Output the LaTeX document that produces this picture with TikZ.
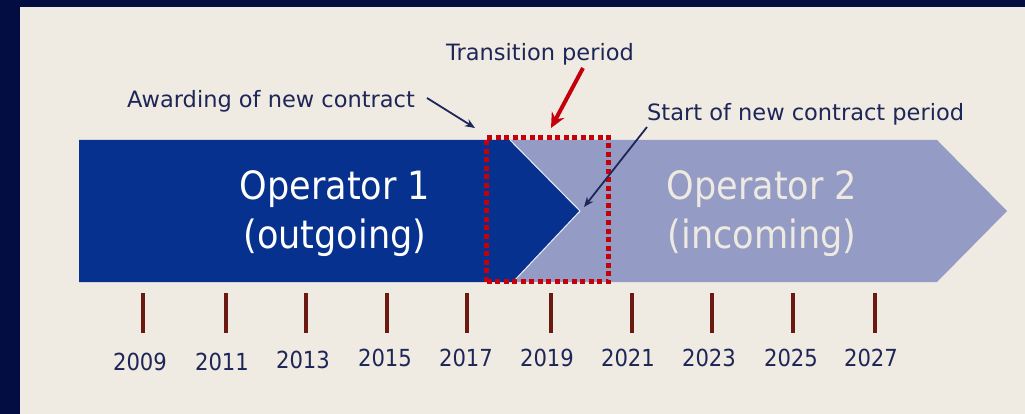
\documentclass[tikz,border=0pt]{standalone}
\usepackage{fontspec}
\setmainfont{DejaVu Sans Condensed}
\newfontfamily\lblfont{DejaVu Sans}
\usetikzlibrary{arrows.meta}
\definecolor{navyborder}{HTML}{030D42}
\definecolor{bg}{HTML}{EFEBE3}
\definecolor{darkbar}{HTML}{06318E}
\definecolor{lightbar}{HTML}{949BC4}
\definecolor{txt}{HTML}{1E2658}
\definecolor{redd}{HTML}{C4000A}
\definecolor{tick}{HTML}{6B1A12}
\definecolor{lighttxt}{HTML}{EEEAE2}
\tikzset{
  lbl/.style={text=txt, font=\lblfont\fontsize{22.5}{26}\selectfont, inner sep=0pt},
  year/.style={text=txt, font=\fontsize{23.5}{27}\selectfont, inner sep=0pt},
  big/.style={font=\fontsize{39}{49}\selectfont, align=center, inner sep=0pt},
  tickline/.style={draw=tick, line width=4pt},
  navyarrow/.style={draw=txt, line width=1.8pt, -{Stealth[length=10pt,width=8pt]}},
  redarrow/.style={draw=redd, line width=4pt, -{Stealth[length=15pt,width=14pt]}},
  transbox/.style={draw=redd, line width=5pt, dash pattern=on 5pt off 3.5pt, inner sep=0pt},
}
\begin{document}
\begin{tikzpicture}[x=1pt,y=-1pt]
\useasboundingbox (0,0) rectangle (1025,414);
\fill[navyborder] (0,0) rectangle (1025,414);
\fill[bg] (20,7) rectangle (1025,414);
% bars
\fill[lightbar] (500,140) -- (937,140) -- (1007,211) -- (937,282) -- (500,282) -- cycle;
\fill[darkbar] (79,140) -- (510,140) -- (580,211) -- (513,282) -- (79,282) -- cycle;
\draw[white!85!lightbar, line width=1pt] (510,140) -- (580,211) -- (513,282);
\node[big, text=white] (op1) at (335,214) {Operator 1\\(outgoing)};
\node[big, text=lighttxt] (op2) at (762,214) {Operator 2\\(incoming)};
% transition box
\node[transbox, minimum width=122pt, minimum height=144pt] (box) at (547.5,209.5) {};
% labels
\node[lbl, anchor=west] (award) at (127,101) {Awarding of new contract};
\node[lbl] (trans) at (540,54) {Transition period};
\node[lbl, anchor=west] (start) at (647,114) {Start of new contract period};
\coordinate (awardS) at (427,98);
\coordinate (awardE) at (475,128);
\coordinate (transS) at (583,68);
\coordinate (transE) at (551,128);
\coordinate (startS) at (647,127);
\coordinate (startE) at (584,207);
\draw[navyarrow] (awardS) -- (awardE);
\draw[redarrow] (transS) -- (transE);
\draw[navyarrow] (startS) -- (startE);
% ticks and years
\foreach \x/\lx/\yr/\ly [count=\i] in {143/140/2009/362, 226/222/2011/362, 306/303/2013/360, 387/385/2015/358, 467/466/2017/358, 551/547/2019/358, 632/628/2021/358, 712/709/2023/358, 793/791/2025/358, 875/871/2027/358}{
  \coordinate (t\i a) at (\x,293);
  \coordinate (t\i b) at (\x,333);
  \draw[tickline] (t\i a) -- (t\i b);
  \node[year] (y\i) at (\lx,\ly) {\yr};
}
\end{tikzpicture}
\end{document}
